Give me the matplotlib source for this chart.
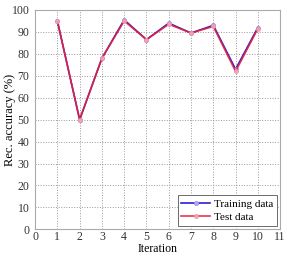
import matplotlib
matplotlib.use("Agg")
import matplotlib.pyplot as plt

# data
iterations = [1, 2, 3, 4, 5, 6, 7, 8, 9, 10]
training = [95, 50, 78, 95.5, 86.5, 94, 89.5, 93, 73, 92]
test = [95, 50, 78, 95, 86.5, 93.5, 89.5, 92.5, 72, 91.5]

plt.rcParams['font.family'] = ['Liberation Serif', 'DejaVu Serif']

fig = plt.figure(figsize=(2.9, 2.56), dpi=100)
ax = fig.add_axes([0.121, 0.104, 0.845, 0.857])

ax.plot(iterations, training, color='#2b1fd0', lw=1.2, marker='o', ms=3,
        mfc='#b9a8f0', mec='#9a8ae8', mew=0.5, label='Training data')
ax.plot(iterations, test, color='#e8203a', lw=1.2, marker='o', ms=3,
        mfc='#f2a8b8', mec='#e890a8', mew=0.5, label='Test data', alpha=0.9)

ax.set_xlim(0, 11)
ax.set_ylim(0, 100)
ax.set_xticks(range(0, 12))
ax.set_yticks(range(0, 101, 10))
ax.grid(True, linestyle=':', color='#999999', lw=0.7)
ax.tick_params(axis='y', labelsize=8.5, colors='#333333', length=0, pad=4)
ax.tick_params(axis='x', labelsize=8.5, colors='#333333', length=0, pad=1.5)
for s in ax.spines.values():
    s.set_color('#aaaaaa')
    s.set_linewidth(0.8)

ax.set_xlabel('Iteration', fontsize=8.5)
ax.xaxis.set_label_coords(0.5, -0.064)
ax.set_ylabel('Rec. accuracy (%)', fontsize=9)
ax.yaxis.set_label_coords(-0.078, 0.5)

leg = ax.legend(loc='lower right', fontsize=8, fancybox=False,
                framealpha=1, edgecolor='#555555', borderpad=0.35,
                handlelength=2.6, handletextpad=0.3, borderaxespad=0.3,
                labelspacing=0.3)
leg.get_frame().set_linewidth(0.6)

fig.savefig('out.png', dpi=100)
